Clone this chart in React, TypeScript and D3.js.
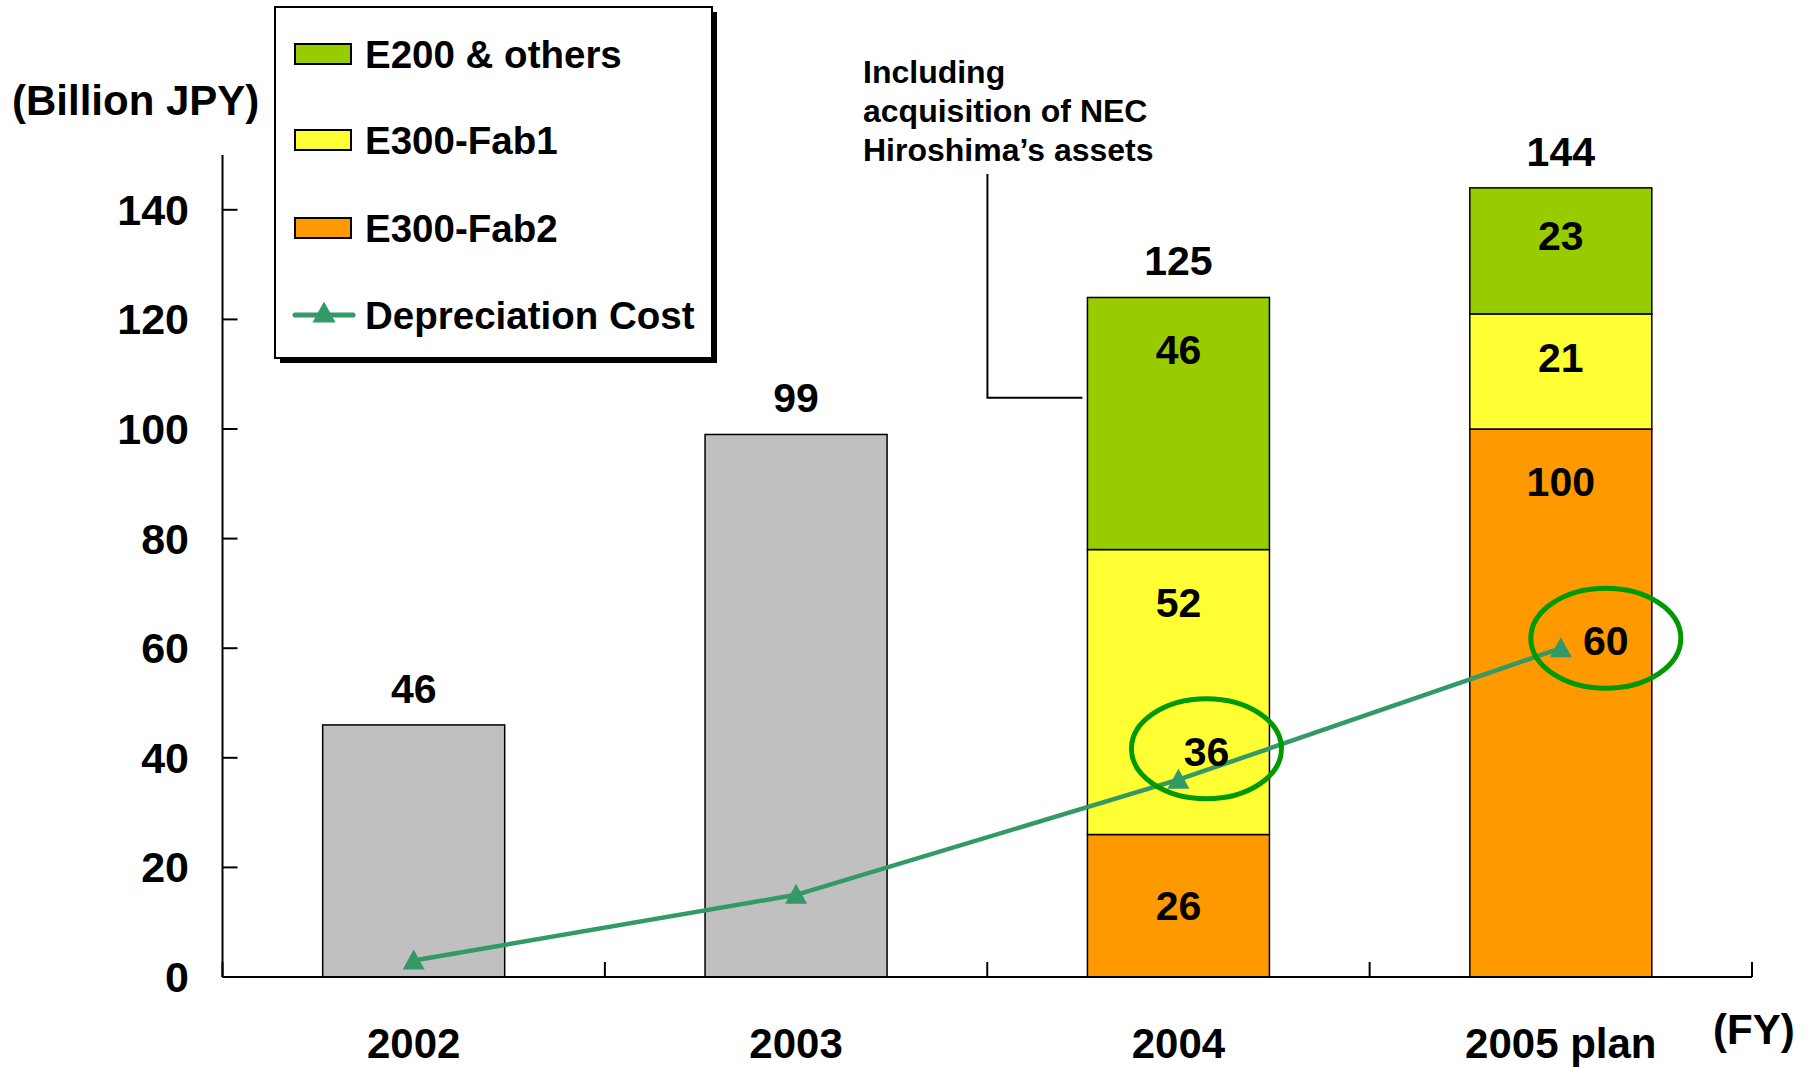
import React from 'react';
import * as d3 from 'd3';

// fiscal years on the x axis
const years = ['2002', '2003', '2004', '2005 plan'];
// capex before the split by fab (grey bars)
const pastCapex = [46, 99, 0, 0];
const e300Fab2 = [0, 0, 26, 100];
const e300Fab1 = [0, 0, 52, 21];
const e200Others = [0, 0, 46, 23];
// totals as printed above the bars
const totalLabels = [46, 99, 125, 144];
const depreciation = [3, 15, 36, 60];
const yTicks = [0, 20, 40, 60, 80, 100, 120, 140];

const W = 1817;
const H = 1067;
const FONT = '"Liberation Sans", Arial, sans-serif';

const colors = {
  past: '#C0C0C0',
  fab2: '#FF9900',
  fab1: '#FFFF33',
  e200: '#99CC00',
  line: '#339966',
  ring: '#009900',
};

const layers = [
  { key: 'fab2', name: 'E300-Fab2', values: e300Fab2, color: colors.fab2 },
  { key: 'fab1', name: 'E300-Fab1', values: e300Fab1, color: colors.fab1 },
  { key: 'e200', name: 'E200 & others', values: e200Others, color: colors.e200 },
];

const tri = (cx: number, cy: number, s: number) =>
  `M${cx},${cy - s * 0.55}L${cx + s * 0.55},${cy + s * 0.45}L${cx - s * 0.55},${cy + s * 0.45}Z`;

export default function App() {
  const left = 222.5;
  const right = 1752;
  const y = d3.scaleLinear().domain([0, 150]).range([977, 155]);
  const x = d3.scaleBand<string>().domain(years).range([left, right]).paddingInner(0.524).paddingOuter(0.262);
  const step = x.step();
  const bw = x.bandwidth();
  const cx = (yr: string) => (x(yr) as number) + bw / 2;

  const stacked = years.map((yr, i) => {
    let base = 0;
    return layers
      .filter(l => l.values[i] > 0)
      .map(l => {
        const seg = { yr, key: l.key, v: l.values[i], y0: base, y1: base + l.values[i], color: l.color };
        base += l.values[i];
        return seg;
      });
  });

  const tops = years.map((_, i) => pastCapex[i] + e300Fab2[i] + e300Fab1[i] + e200Others[i]);

  const line = d3.line<number>().x((_, i) => cx(years[i])).y(d => y(d));

  // circled depreciation values
  const circled = [
    { i: 2, dx: 28, dy: -31 },
    { i: 3, dx: 45, dy: -10 },
  ];

  const legendItems = [
    { name: 'E200 & others', color: colors.e200 },
    { name: 'E300-Fab1', color: colors.fab1 },
    { name: 'E300-Fab2', color: colors.fab2 },
  ];
  const legendRows = [54, 140, 228, 315];

  const x2004 = x('2004') as number;

  return (
    <svg width={W} height={H} style={{ position: 'absolute', left: 0, top: 0, background: '#fff' }}
      fontFamily={FONT} fontWeight="bold">
      {/* grey bars */}
      {years.map((yr, i) => pastCapex[i] > 0 && (
        <rect key={'p' + yr} x={x(yr)} y={y(pastCapex[i])} width={bw} height={y(0) - y(pastCapex[i])}
          fill={colors.past} stroke="#000" strokeWidth={1.5} />
      ))}
      {/* stacked bars */}
      {stacked.map(segs => segs.map(s => {
        const hPx = y(s.y0) - y(s.y1);
        let ly;
        if (s.v >= 40) ly = y(s.y1) + 53;
        else if (s.y0 === 0) ly = y(s.y1) + hPx / 2;
        else ly = y(s.y1) + hPx * 0.38;
        return (
          <g key={s.yr + s.key}>
            <rect x={x(s.yr)} y={y(s.y1)} width={bw} height={hPx} fill={s.color} stroke="#000" strokeWidth={1.5} />
            <text x={cx(s.yr)} y={ly} textAnchor="middle" dominantBaseline="central" fontSize={41}>{s.v}</text>
          </g>
        );
      }))}
      {/* totals */}
      {years.map((yr, i) => (
        <text key={'t' + yr} x={cx(yr)} y={y(tops[i]) - 36} textAnchor="middle" dominantBaseline="central" fontSize={41}>
          {totalLabels[i]}
        </text>
      ))}

      {/* axes */}
      <line x1={left} x2={left} y1={y(150)} y2={y(0)} stroke="#000" strokeWidth={2} />
      <line x1={left} x2={right} y1={y(0)} y2={y(0)} stroke="#000" strokeWidth={2} />
      {yTicks.map(t => (
        <g key={'yt' + t}>
          <line x1={left} x2={left + 15} y1={y(t)} y2={y(t)} stroke="#000" strokeWidth={2} />
          <text x={189} y={y(t)} textAnchor="end" dominantBaseline="central" fontSize={43}>{t}</text>
        </g>
      ))}
      {d3.range(years.length + 1).map(k => (
        <line key={'xt' + k} x1={left + k * step} x2={left + k * step} y1={y(0)} y2={y(0) - 15} stroke="#000" strokeWidth={2} />
      ))}
      {years.map(yr => (
        <text key={'xl' + yr} x={cx(yr)} y={1043} textAnchor="middle" dominantBaseline="central" fontSize={42}>{yr}</text>
      ))}
      <text x={1713} y={1029} dominantBaseline="central" fontSize={42}>(FY)</text>
      <text x={12} y={100} dominantBaseline="central" fontSize={42}>(Billion JPY)</text>

      {/* depreciation line */}
      <path d={line(depreciation) || ''} fill="none" stroke={colors.line} strokeWidth={4.5} />
      {depreciation.map((d, i) => (
        <path key={'m' + i} d={tri(cx(years[i]), y(d), 20)} fill={colors.line} />
      ))}
      {circled.map(c => {
        const px = cx(years[c.i]) + c.dx;
        const py = y(depreciation[c.i]) + c.dy;
        return (
          <g key={'c' + c.i}>
            <ellipse cx={px} cy={py} rx={75} ry={50} fill="none" stroke={colors.ring} strokeWidth={5} />
            <text x={px} y={py + 3} textAnchor="middle" dominantBaseline="central" fontSize={41}>{depreciation[c.i]}</text>
          </g>
        );
      })}

      {/* annotation */}
      <g fontSize={32}>
        <text x={863} y={72} dominantBaseline="central">Including</text>
        <text x={863} y={111} dominantBaseline="central">acquisition of NEC</text>
        <text x={863} y={150} dominantBaseline="central">Hiroshima’s assets</text>
      </g>
      <path d={`M${x2004 - 100},174V${y(105.7)}H${x2004 - 5}`} fill="none" stroke="#000" strokeWidth={2} />

      {/* legend */}
      <rect x={280} y={12} width={437} height={351} fill="#000" />
      <rect x={275} y={7} width={437} height={351} fill="#fff" stroke="#000" strokeWidth={2} />
      {legendItems.map((it, i) => (
        <g key={'lg' + i}>
          <rect x={295} y={legendRows[i] - 10} width={56} height={20} fill={it.color} stroke="#000" strokeWidth={2} />
          <text x={365} y={legendRows[i]} dominantBaseline="central" fontSize={38.5}>{it.name}</text>
        </g>
      ))}
      <line x1={295} x2={353} y1={legendRows[3]} y2={legendRows[3]} stroke={colors.line} strokeWidth={5} strokeLinecap="round" />
      <path d={tri(324, legendRows[3] - 2, 21)} fill={colors.line} />
      <text x={365} y={legendRows[3]} dominantBaseline="central" fontSize={38.5}>Depreciation Cost</text>
    </svg>
  );
}
